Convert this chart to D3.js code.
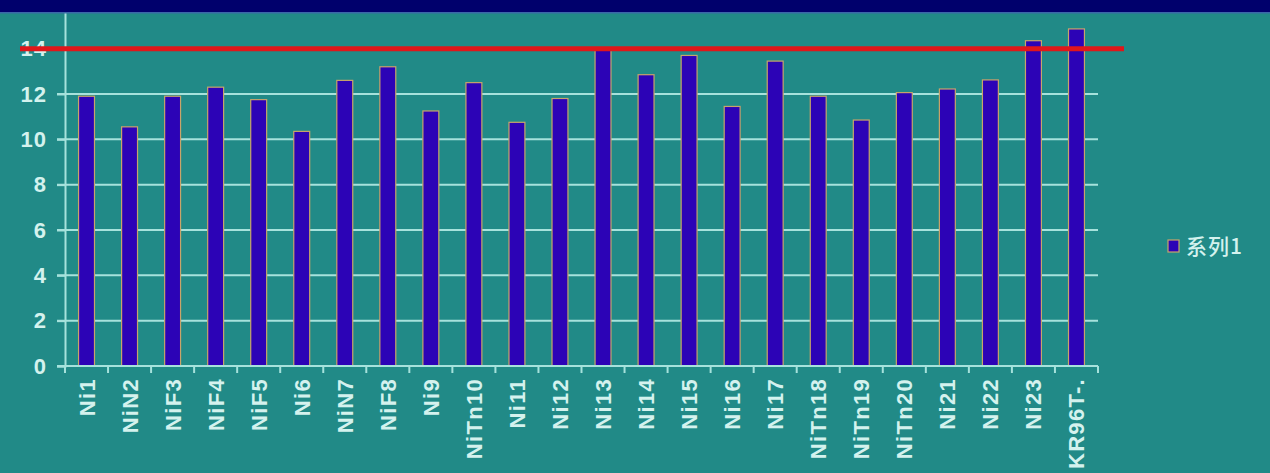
<!DOCTYPE html>
<html>
<head>
<meta charset="utf-8">
<script src="https://cdn.jsdelivr.net/npm/d3@7"></script>
<style>
  html, body { margin: 0; padding: 0; background: #218a87; }
  svg { display: block; }
</style>
</head>
<body>
<svg id="chart" width="1270" height="473"></svg>
<script>
// Sample names along the category axis
const categories = ["Ni1", "NiN2", "NiF3", "NiF4", "NiF5", "Ni6", "NiN7", "NiF8", "Ni9", "NiTn10",
  "Ni11", "Ni12", "Ni13", "Ni14", "Ni15", "Ni16", "Ni17", "NiTn18", "NiTn19", "NiTn20",
  "Ni21", "Ni22", "Ni23", "KR96T-."];
// 系列1 values
const series1 = [11.9, 10.55, 11.9, 12.3, 11.75, 10.35, 12.6, 13.2, 11.25, 12.5,
  10.75, 11.8, 13.95, 12.85, 13.7, 11.45, 13.45, 11.9, 10.85, 12.06,
  12.22, 12.62, 14.35, 14.87];
const seriesName = "系列1";
// Value-axis ticks (the axis runs up to 16, under the header band) and the reference level
const yMax = 16;
const yTicks = [0, 2, 4, 6, 8, 10, 12, 14];
const referenceLevel = 14;

const svg = d3.select("#chart");
const W = 1270, H = 473;
const plot = { left: 65, right: 1098, top: 3.3, bottom: 366 };
const textColor = "#d4f2ee";
const gridColor = "#a6e2dc";
const font = "'Liberation Sans', Arial, sans-serif";

svg.append("rect").attr("width", W).attr("height", H).attr("fill", "#218a87");

const x = d3.scaleBand()
  .domain(categories)
  .range([plot.left, plot.right])
  .paddingInner(0.63)
  .paddingOuter(0.315);
const step = x.step();

const y = d3.scaleLinear().domain([0, yMax]).range([plot.bottom, plot.top]);

// horizontal gridlines
svg.append("g")
  .selectAll("line")
  .data(yTicks.filter(t => t > 0))
  .join("line")
  .attr("x1", plot.left - 8).attr("x2", plot.right)
  .attr("y1", d => y(d)).attr("y2", d => y(d))
  .attr("stroke", gridColor).attr("stroke-width", 2);

// y axis
const yAxis = svg.append("g")
  .attr("transform", `translate(${plot.left},0)`)
  .call(d3.axisLeft(y).tickValues(yTicks).tickSize(8).tickPadding(10).tickFormat(d3.format("d")));
yAxis.select(".domain").attr("stroke", gridColor).attr("stroke-width", 2);
yAxis.selectAll(".tick line").attr("stroke", gridColor).attr("stroke-width", 2);
yAxis.selectAll(".tick text")
  .attr("fill", textColor).attr("font-family", font).attr("font-size", 22)
  .attr("font-weight", "bold").attr("letter-spacing", 1).attr("dx", 0);

// bars
svg.append("g")
  .selectAll("rect")
  .data(series1)
  .join("rect")
  .attr("x", (d, i) => x(categories[i]))
  .attr("width", x.bandwidth())
  .attr("y", d => y(d))
  .attr("height", d => y(0) - y(d))
  .attr("fill", "#2c03b6")
  .attr("stroke", "#c9a46a")
  .attr("stroke-width", 1.2);

// category axis with ticks on band boundaries
const xg = svg.append("g").attr("transform", `translate(0,${plot.bottom})`);
xg.append("line")
  .attr("x1", plot.left - 8).attr("x2", plot.right)
  .attr("stroke", gridColor).attr("stroke-width", 2);
xg.selectAll("line.tk")
  .data(d3.range(categories.length + 1))
  .join("line").attr("class", "tk")
  .attr("x1", i => plot.left + i * step).attr("x2", i => plot.left + i * step)
  .attr("y1", 0).attr("y2", 7)
  .attr("stroke", gridColor).attr("stroke-width", 2);
xg.selectAll("text")
  .data(categories)
  .join("text")
  .attr("transform", d => `translate(${x(d) + x.bandwidth() / 2 + 8},12) rotate(-90)`)
  .attr("text-anchor", "end")
  .attr("fill", textColor).attr("font-family", font).attr("font-size", 22)
  .attr("font-weight", "bold").attr("letter-spacing", 1.3)
  .text(d => d);

// reference line
svg.append("line")
  .attr("x1", 20).attr("x2", 1124)
  .attr("y1", y(referenceLevel)).attr("y2", y(referenceLevel))
  .attr("stroke", "#e0161a").attr("stroke-width", 5);

// legend
const lg = svg.append("g").attr("transform", "translate(1168,240)");
lg.append("rect").attr("width", 11).attr("height", 12)
  .attr("fill", "#2c03b6").attr("stroke", "#c9a46a").attr("stroke-width", 1.2);
lg.append("text").attr("x", 18).attr("y", 14)
  .attr("fill", textColor).attr("font-family", "'Noto Sans CJK SC', sans-serif")
  .attr("font-size", 21).attr("font-weight", 500).attr("letter-spacing", 1)
  .text(seriesName);

// header band across the top
svg.append("rect").attr("x", 0).attr("y", 0).attr("width", W).attr("height", 12).attr("fill", "#00006c");
svg.append("rect").attr("x", 0).attr("y", 12).attr("width", W).attr("height", 1.5).attr("fill", "#3a68a8");
</script>
</body>
</html>
